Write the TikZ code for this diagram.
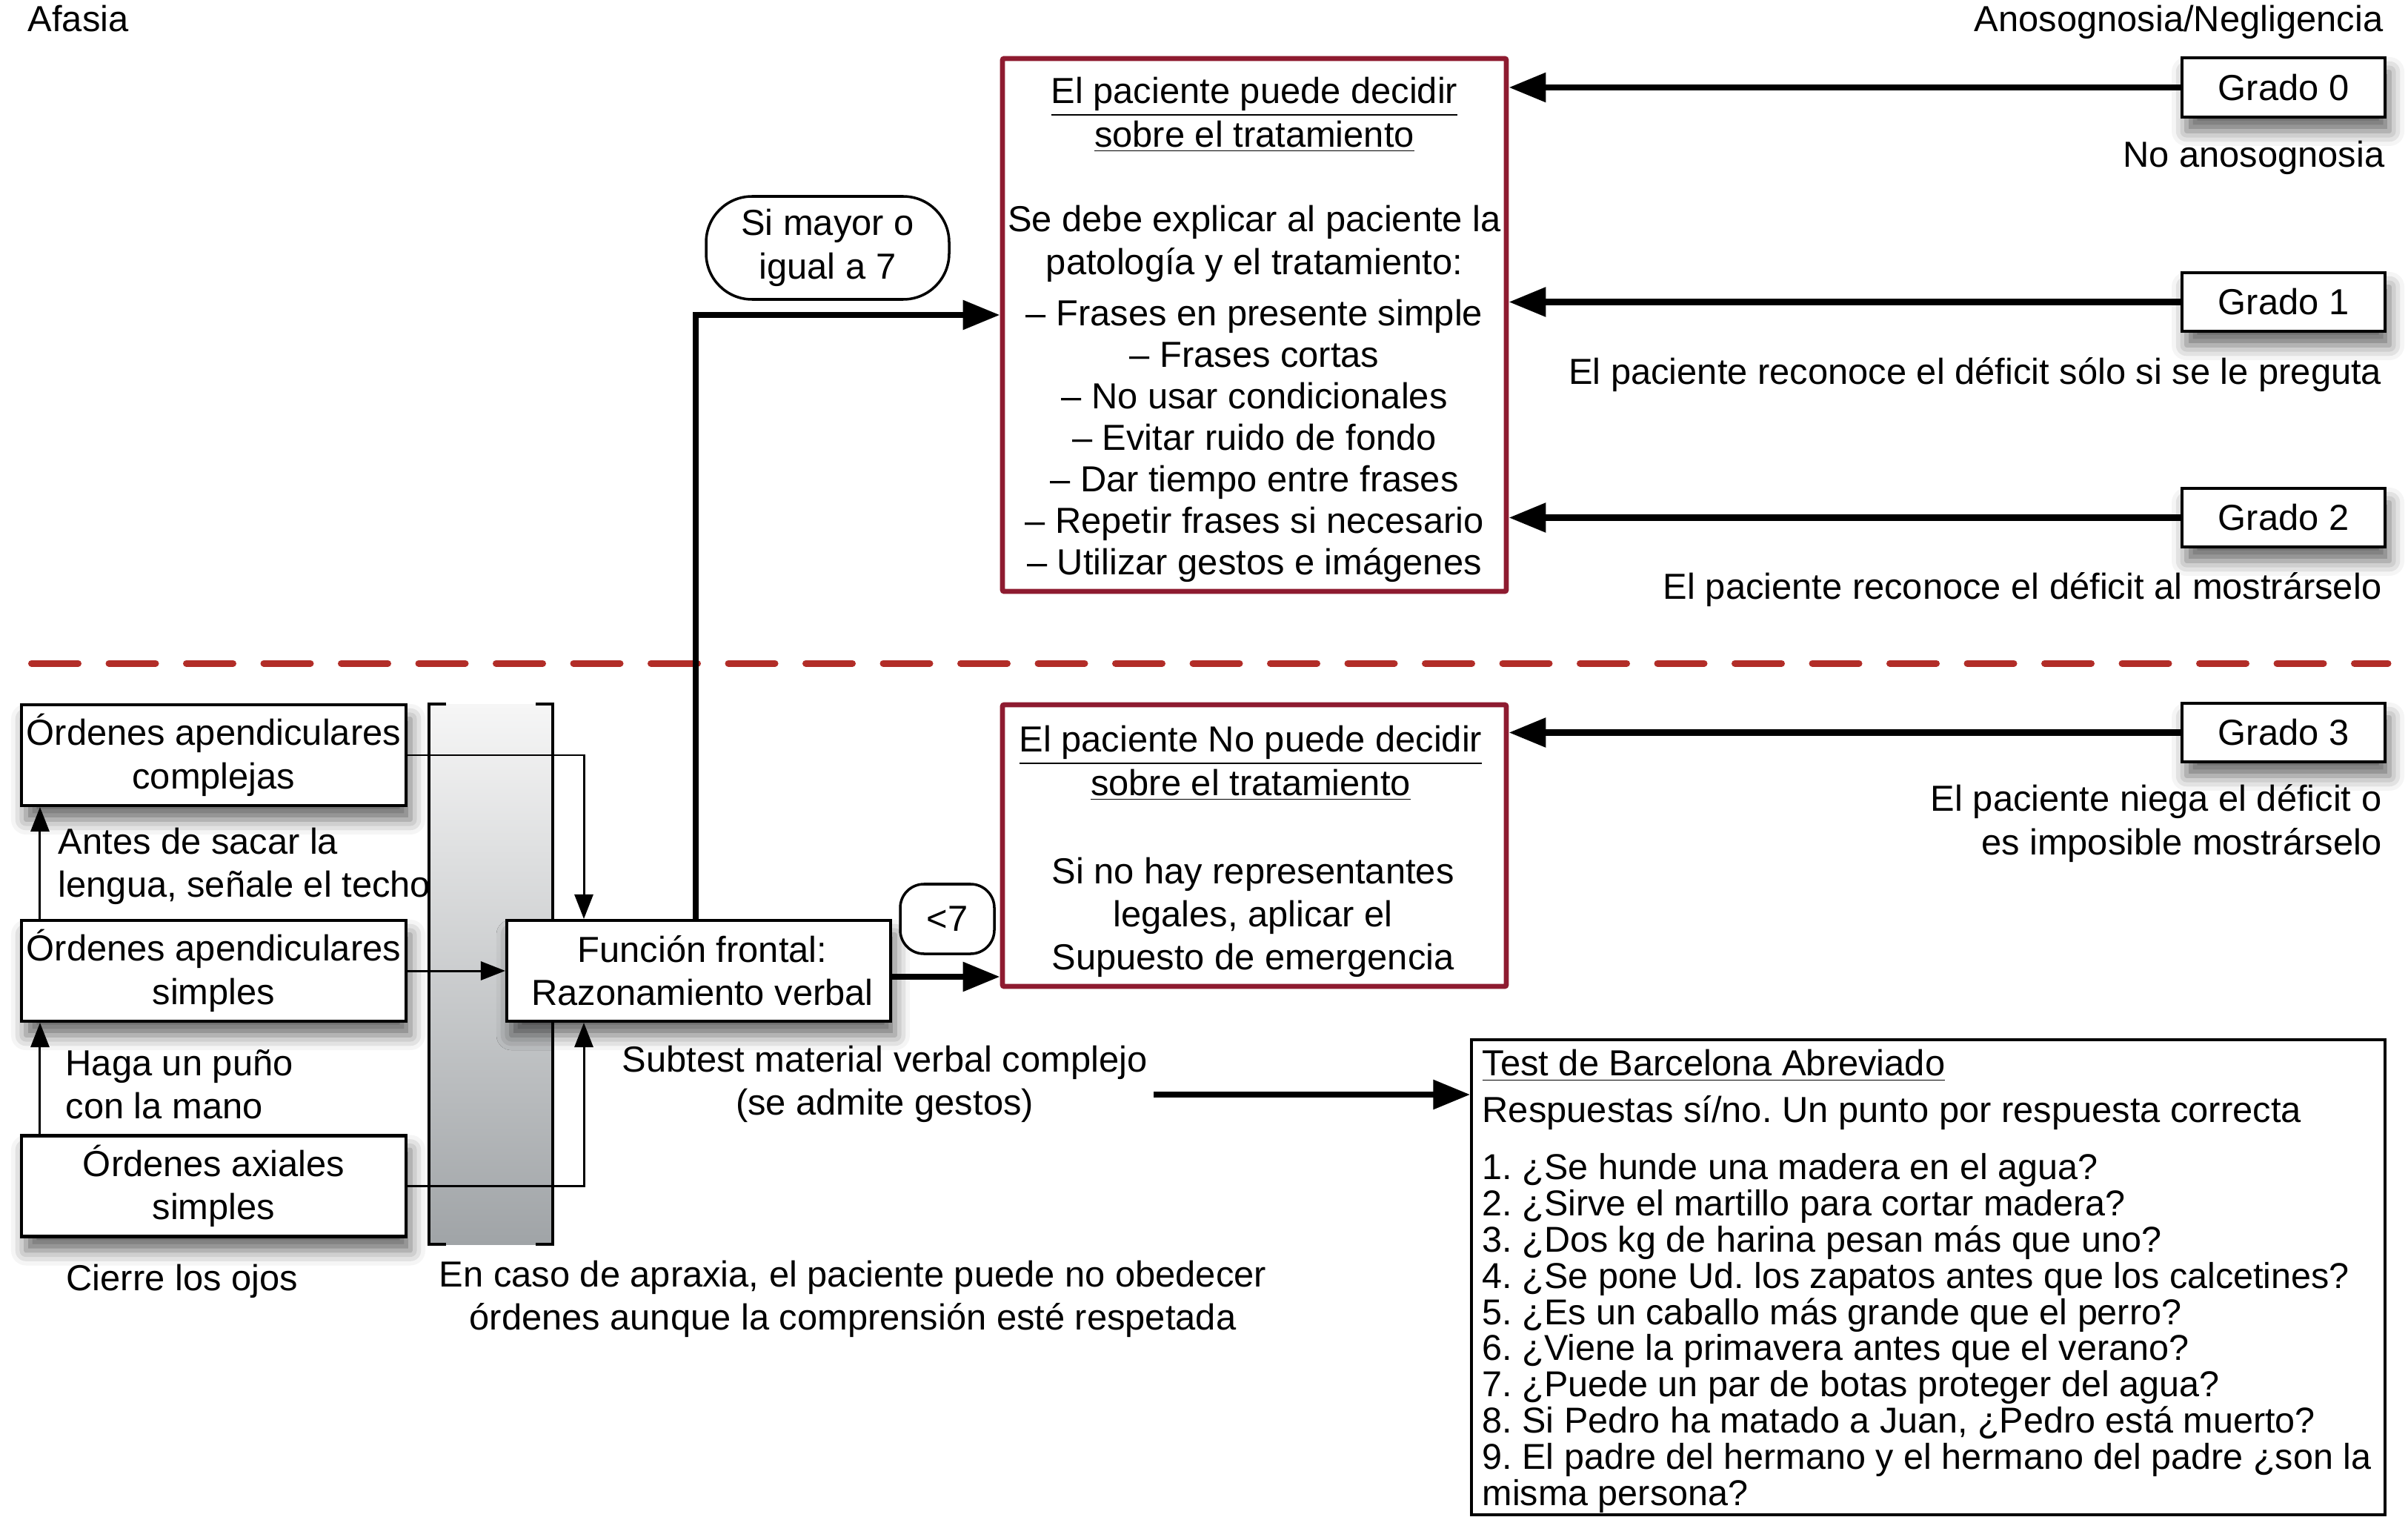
\documentclass[tikz,border=0pt]{standalone}
\usepackage{fontspec}
\setmainfont{Liberation Sans}
\usetikzlibrary{arrows.meta,shadows.blur,calc}
\definecolor{boxred}{RGB}{142,27,48}
\definecolor{dashred}{RGB}{178,45,40}
\frenchspacing
\begin{document}
\begin{tikzpicture}[x=1cm,y=-1cm,
  txt/.style={inner sep=0pt, font=\fontsize{13.9}{16.6}\selectfont},
  listtxt/.style={inner sep=0pt, font=\fontsize{13.9}{15.9}\selectfont},
  shadowbox/.style={draw, line width=1.15pt, fill=white, inner sep=0pt, align=center,
    font=\fontsize{13.9}{16.6}\selectfont,
    blur shadow={shadow xshift=0.6mm, shadow yshift=-1.9mm, shadow blur radius=2mm, shadow opacity=60}},
  redbox/.style={draw=boxred, line width=1.9pt, fill=white, inner sep=0pt, rounded corners=0.6pt},
  pill/.style={draw, line width=1pt, fill=white, align=center, inner sep=0pt,
    font=\fontsize{13.9}{16.6}\selectfont},
  thinline/.style={line width=0.85pt},
  thinarrow/.style={line width=0.85pt, -{Triangle[length=3.3mm,width=2.5mm]}},
  thickarrow/.style={line width=2.5pt, -{Triangle[length=5mm,width=3.8mm]}},
]
\useasboundingbox (0,0) rectangle (32.5,20.47);

% headings
\node[txt, anchor=base west] (afasia) at (0.37,0.43) {Afasia};
\node[txt, anchor=base east] (anoso) at (32.17,0.43) {Anosognosia/Negligencia};

% red boxes
\node[redbox, minimum width=6.8cm, minimum height=7.19cm] (rb1) at (16.93,4.385) {};
\node[redbox, minimum width=6.8cm, minimum height=3.8cm] (rb2) at (16.93,11.41) {};

\node[txt, align=center] (rb1a) at (16.93,1.55) {\underline{El paciente puede decidir}\\\underline{sobre el tratamiento}};
\node[txt, align=center] (rb1b) at (16.93,3.29) {Se debe explicar al paciente la\\patología y el tratamiento:};
\node[listtxt, align=center] (rb1c) at (16.93,5.95) {– Frases en presente simple\\– Frases cortas\\– No usar condicionales\\– Evitar ruido de fondo\\– Dar tiempo entre frases\\– Repetir frases si necesario\\– Utilizar gestos e imágenes};

\node[txt, align=center] (rb2a) at (16.88,10.30) {\underline{El paciente No puede decidir}\\\underline{sobre el tratamiento}};
\node[txt, align=center] (rb2b) at (16.91,12.38) {Si no hay representantes\\legales, aplicar el\\Supuesto de emergencia};

% dashed separator
\coordinate (dashL) at (0.425,8.95);
\coordinate (dashR) at (32.23,8.95);
\draw[dashred, line width=0.09cm, line cap=round, dash pattern=on 0.63cm off 0.415cm] (dashL) -- (dashR);

% Grado boxes
\node[shadowbox, minimum width=2.74cm, minimum height=0.80cm] (g0) at (30.82,1.18) {Grado 0};
\node[shadowbox, minimum width=2.74cm, minimum height=0.79cm] (g1) at (30.82,4.075) {Grado 1};
\node[shadowbox, minimum width=2.74cm, minimum height=0.79cm] (g2) at (30.82,6.985) {Grado 2};
\node[shadowbox, minimum width=2.74cm, minimum height=0.79cm] (g3) at (30.82,9.885) {Grado 3};

\draw[thickarrow] (g0.west) -- (g0.west -| rb1.east);
\draw[thickarrow] (g1.west) -- (g1.west -| rb1.east);
\draw[thickarrow] (g2.west) -- (g2.west -| rb1.east);
\draw[thickarrow] (g3.west) -- (g3.west -| rb2.east);

\node[txt, anchor=east] (c0) at (32.19,2.13) {No anosognosia};
\node[txt, anchor=east] (c1) at (32.15,5.06) {El paciente reconoce el déficit sólo si se le preguta};
\node[txt, anchor=east] (c2) at (32.15,7.96) {El paciente reconoce el déficit al mostrárselo};
\node[txt, anchor=east, align=right] (c3) at (32.15,11.11) {El paciente niega el déficit o\\es imposible mostrárselo};

% gradient panel with brackets
\shade[top color={rgb,255:red,246;green,246;blue,246}, bottom color={rgb,255:red,160;green,164;blue,167}] (5.79,9.50) rectangle (7.46,16.79);
\draw[line width=1pt] (6.02,9.50) -- (5.79,9.50) -- (5.79,16.79) -- (6.02,16.79);
\draw[line width=1pt] (7.23,9.50) -- (7.46,9.50) -- (7.46,16.79) -- (7.23,16.79);

% left boxes
\node[shadowbox, minimum width=5.19cm, minimum height=1.36cm] (b1) at (2.885,10.19) {Órdenes apendiculares\\complejas};
\node[shadowbox, minimum width=5.19cm, minimum height=1.36cm] (b2) at (2.885,13.10) {Órdenes apendiculares\\simples};
\node[shadowbox, minimum width=5.19cm, minimum height=1.36cm] (b3) at (2.885,16.005) {Órdenes axiales\\simples};

\draw[thinarrow] ([xshift=2.7mm]b2.north west) -- ([xshift=2.7mm]b1.south west);
\draw[thinarrow] ([xshift=2.7mm]b3.north west) -- ([xshift=2.7mm]b2.south west);

\node[txt, anchor=west, align=left] (l1) at (0.78,11.69) {Antes de sacar la\\lengua, señale el techo};
\node[txt, anchor=west, align=left] (l2) at (0.88,14.63) {Haga un puño\\con la mano};
\node[txt, anchor=west] (l3) at (0.89,17.29) {Cierre los ojos};

% Funcion frontal
\node[shadowbox, minimum width=5.18cm, minimum height=1.36cm] (func) at (9.43,13.10) {\hspace*{0.1cm}Función frontal:\\\hspace*{0.1cm}Razonamiento verbal};

\coordinate (join) at (7.88,10.19);
\draw[thinarrow] (b1.east) -- (b1.east -| join) -- (func.north -| join);
\draw[thinarrow] (b2.east) -- (func.west);
\draw[thinarrow] (b3.east) -- (b3.east -| join) -- (func.south -| join);

\node[txt, align=center] (apraxia) at (11.51,17.53) {En caso de apraxia, el paciente puede no obedecer\\órdenes aunque la comprensión esté respetada};

% decision branches
\coordinate (turn) at (9.39,4.25);
\draw[thickarrow] (func.north -| turn) -- (turn) -- (rb1.west |- turn);
\node[pill, rounded corners=0.62cm, minimum width=3.28cm, minimum height=1.39cm] (mayor) at (11.17,3.345) {Si mayor o\\igual a 7};

\draw[thickarrow] ([yshift=-0.8mm]func.east) -- ([yshift=-0.8mm]func.east -| rb2.west);
\node[pill, rounded corners=0.32cm, minimum width=1.27cm, minimum height=0.94cm] (menor) at (12.785,12.40) {<7};

% subtest
\node[txt, align=center] (subtest) at (11.94,14.63) {Subtest material verbal complejo\\(se admite gestos)};

% Test box
\node[draw, line width=0.9pt, fill=white, minimum width=12.33cm, minimum height=6.41cm, inner sep=0pt] (test) at (26.025,17.235) {};
\coordinate (subend) at (15.57,14.77);
\draw[thickarrow] (subend) -- (subend -| test.west);

\node[txt, anchor=west] (t1) at (20.00,14.38) {\underline{Test de Barcelona Abreviado}};
\node[txt, anchor=west] (t2) at (20.00,15.02) {Respuestas sí/no. Un punto por respuesta correcta};
\node[inner sep=0pt, anchor=west, align=left, font=\fontsize{13.8}{13.9}\selectfont] (t3) at (20.00,17.99) {1. ¿Se hunde una madera en el agua?\\2. ¿Sirve el martillo para cortar madera?\\3. ¿Dos kg de harina pesan más que uno?\\4. ¿Se pone Ud. los zapatos antes que los calcetines?\\5. ¿Es un caballo más grande que el perro?\\6. ¿Viene la primavera antes que el verano?\\7. ¿Puede un par de botas proteger del agua?\\8. Si Pedro ha matado a Juan, ¿Pedro está muerto?\\9. El padre del hermano y el hermano del padre ¿son la\\misma persona?};
\end{tikzpicture}
\end{document}
